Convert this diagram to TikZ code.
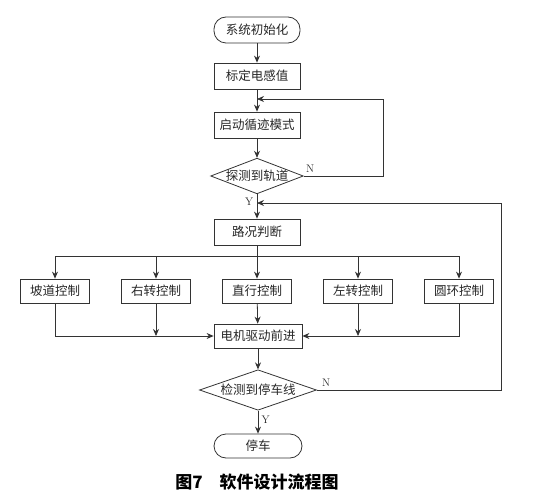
\documentclass[tikz,border=0pt]{standalone}
\usepackage{fontspec}
\newfontfamily\cjk{Noto Sans CJK SC}
\usetikzlibrary{shapes.geometric,arrows.meta}
\begin{document}
\begin{tikzpicture}[x=1pt,y=-1pt,line width=0.8pt,
  color=black!80,
  >={Stealth[length=7pt,width=6pt]},
  txt/.style={font=\cjk\fontsize{12.5}{14}\selectfont, text=black!85},
  box/.style={txt, draw, rectangle, minimum width=86pt, minimum height=26pt, inner sep=0pt},
  cbox/.style={txt, draw, rectangle, minimum width=69pt, minimum height=24pt, inner sep=0pt},
  term/.style={txt, draw, rectangle, rounded corners=12pt, minimum width=86pt, minimum height=26pt, inner sep=0pt},
  dec/.style={txt, draw, diamond, aspect=2.6, inner sep=0pt},
  lab/.style={font=\fontsize{11}{13}\selectfont, text=black!85}]
\useasboundingbox (0,0) rectangle (548,500);
\node[term] (init) at (257,30) {系统初始化};
\node[box] (calib) at (257,76) {标定电感值};
\node[box] (start) at (257,125) {启动循迹模式};
\node[dec, minimum width=92pt, minimum height=35pt] (det) at (257,176) {探测到轨道};
\node[box] (road) at (257,232) {路况判断};
\node[cbox] (c1) at (55,291) {坡道控制};
\node[cbox] (c2) at (156,291) {右转控制};
\node[cbox] (c3) at (257,291) {直行控制};
\node[cbox] (c4) at (358,291) {左转控制};
\node[cbox] (c5) at (459,291) {圆环控制};
\node[box, minimum width=88pt, minimum height=24pt] (motor) at (258,336) {电机驱动前进};
\node[dec, minimum width=117pt, minimum height=36pt] (sd) at (258,390) {检测到停车线};
\node[term, minimum width=88pt, minimum height=24pt] (stop) at (258,446) {停车};
\node[text=black, font=\cjk\bfseries\fontsize{17}{19}\selectfont] (cap) at (257,482) {图7\hspace{1em}软件设计流程图};
\coordinate (j1) at (257,99);
\coordinate (r1) at (383,176);
\coordinate (r1t) at (383,99);
\coordinate (j2) at (257,203);
\coordinate (r2) at (501,390);
\coordinate (r2t) at (501,203);
\coordinate (bus) at (257,256);
\coordinate (busl) at (55,256);
\coordinate (busr) at (459,256);
\draw[->] (init) -- (calib);
\draw[->] (calib) -- (start);
\draw[->] (start) -- (det);
\draw[->] (det) -- node[lab, left, pos=0.3] {Y} (road);
\draw (det.east) -- node[lab, above, pos=0.08] {N} (r1) -- (r1t);
\draw[->] (r1t) -- (j1);
\draw (sd.east) -- node[lab, above, pos=0.05] {N} (r2) -- (r2t);
\draw[->] (r2t) -- (j2);
\draw (road) -- (bus);
\draw (busl) -- (busr);
\draw[->] (busl) -- (c1);
\draw[->] (bus -| c2) -- (c2);
\draw[->] (bus) -- (c3);
\draw[->] (bus -| c4) -- (c4);
\draw[->] (busr) -- (c5);
\draw[->] (c1.south) |- (motor.west);
\draw[->] (c5.south) |- (motor.east);
\draw[->] (c2.south) -- (c2.south |- motor.west);
\draw[->] (c4.south) -- (c4.south |- motor.east);
\draw[->] (c3) -- (motor);
\draw[->] (motor) -- (sd);
\draw[->] (sd) -- node[lab, right, pos=0.4] {Y} (stop);
\end{tikzpicture}
\end{document}
